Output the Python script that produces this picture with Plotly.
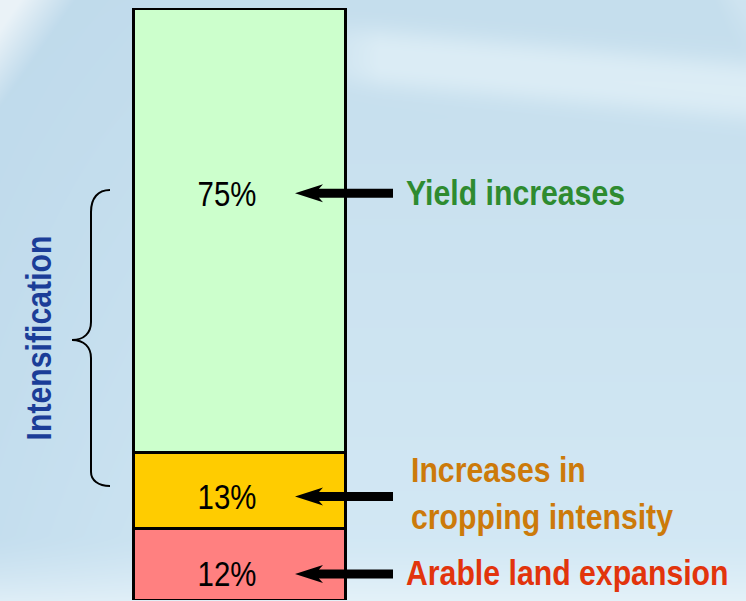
import base64
import struct
import zlib

import numpy as np
import plotly.graph_objects as go

# ---- data -------------------------------------------------------------
sources = ["Arable land expansion", "Increases in<br>cropping intensity", "Yield increases"]
shares = [12, 13, 75]                      # % of growth in crop production
bar_colors = ["#ff8080", "#ffcc00", "#ccffcc"]
label_colors = ["#e2340c", "#cc7a0a", "#2e8b30"]

# ---- canvas / layout constants ----------------------------------------
W, H = 746, 601
M_TOP, M_BOT = 8, 1
PLOT_H = H - M_TOP - M_BOT
BAR_X, BAR_W = 239, 212          # bar centre / width on a pixel-scaled x axis
PCT_X = 227                      # centre of the % labels
label_y = [4.4, 17.5, 68.7]      # vertical anchor of each % label and its arrow
side_text_y = [4.6, 18.1, 68.9]  # vertical anchor of the text on the right
SQUEEZE = 0.84                   # horizontal condensing of all text


def py(px):
    """pixel row -> y data value"""
    return (H - M_BOT - px) * 100.0 / PLOT_H


def dpx(px):
    """pixel height -> y data span"""
    return px * 100.0 / PLOT_H


# ---- soft blue backdrop rendered to a PNG ------------------------------
def make_backdrop():
    Y, X = np.mgrid[0:H, 0:W].astype(float)
    t = (Y / (H - 1))[..., None]
    top = np.array([197, 222, 237.0])
    bot = np.array([212, 233, 245.0])
    img = top * (1 - t) + bot * t

    def mix(img, w, col):
        w = w[..., None]
        return img * (1 - w) + np.array(col, float) * w

    # slightly deeper blue on the left side
    img = mix(img, np.clip(1 - X / 320, 0, 1) * 0.55, (186, 215, 234))
    # light swoosh across the upper right
    yc = 54 + (X - 340) * 0.09
    d = (Y - yc) / 30.0
    img = mix(img, np.exp(-np.abs(d) ** 3) * np.clip((X - 300) / 80, 0, 1) * 0.6,
              (234, 246, 251))
    # bright streak in the top-left corner
    s = X + 0.7 * Y
    img = mix(img, np.clip((75 - s) / 55, 0, 1) * 0.85, (242, 247, 250))
    # faint wedge at the top-right corner
    img = mix(img, np.clip((X - 712 - 0.5 * Y) / 25, 0, 1)
              * np.clip(1 - Y / 90, 0, 1) * 0.25, (236, 246, 251))
    # lighter haze along the bottom
    img = mix(img, np.clip((Y - 535) / 66, 0, 1) ** 1.5 * 0.65, (236, 246, 251))
    return np.clip(img, 0, 255).astype(np.uint8)


def png_uri(arr):
    h, w, _ = arr.shape
    raw = b"".join(b"\x00" + arr[r].tobytes() for r in range(h))

    def chunk(tag, data):
        c = struct.pack(">I", len(data)) + tag + data
        return c + struct.pack(">I", zlib.crc32(tag + data) & 0xFFFFFFFF)

    png = (b"\x89PNG\r\n\x1a\n"
           + chunk(b"IHDR", struct.pack(">IIBBBBB", w, h, 8, 2, 0, 0, 0))
           + chunk(b"IDAT", zlib.compress(raw, 9))
           + chunk(b"IEND", b""))
    return "data:image/png;base64," + base64.b64encode(png).decode()


# ---- figure -----------------------------------------------------------
fig = go.Figure()
for name, val, col in zip(sources, shares, bar_colors):
    fig.add_trace(go.Bar(
        x=[BAR_X], y=[val], width=[BAR_W], name=name,
        marker=dict(color=col, line=dict(color="black", width=3)),
        hoverinfo="skip", showlegend=False,
    ))

FONT = "Liberation Sans, Arial, sans-serif"
annotations = []
shapes = []

for val, ly, ty, txt, tcol in zip(shares, label_y, side_text_y, sources, label_colors):
    # percentage inside the bar segment
    annotations.append(dict(
        x=PCT_X, y=ly, xref="x", yref="y", text=f"{val}%", showarrow=False,
        font=dict(family=FONT, size=35, color="black"),
        xanchor="center", yanchor="middle",
    ))
    # label on the right
    left = 404 if val != 13 else 409
    annotations.append(dict(
        x=left, y=ty, xref="x", yref="y", text=f"<b>{txt}</b>", showarrow=False,
        font=dict(family=FONT, size=36, color=tcol),
        xanchor="left", yanchor="middle", align="left",
    ))
    # thick black arrow pointing into the bar
    shapes.append(dict(type="line", xref="x", yref="y", x0=318, x1=393, y0=ly, y1=ly,
                       line=dict(color="black", width=9)))
    h = dpx(9)
    shapes.append(dict(
        type="path", xref="x", yref="y", fillcolor="black", line=dict(width=0),
        path=(f"M 295,{ly} L 323,{ly + h} L 319,{ly + h / 2} "
              f"L 319,{ly - h / 2} L 323,{ly - h} Z"),
    ))

# curly brace grouping the intensification components
brace = (f"M 110,{py(190)} C 98,{py(190)} 91,{py(198)} 91,{py(212)} "
         f"L 91,{py(322)} C 91,{py(333)} 84,{py(340)} 72,{py(340)} "
         f"C 84,{py(340)} 91,{py(347)} 91,{py(358)} "
         f"L 91,{py(472)} C 91,{py(480)} 98,{py(486)} 110,{py(486)}")
shapes.append(dict(type="path", xref="x", yref="y", path=brace,
                   line=dict(color="black", width=2)))

annotations.append(dict(
    x=38, y=py(338), xref="x", yref="y", text="<b>Intensification</b>",
    textangle=-90, showarrow=False,
    font=dict(family=FONT, size=36, color="#1b3d98"),
    xanchor="center", yanchor="middle",
))

fig.update_layout(
    width=W, height=H,
    margin=dict(l=0, r=0, t=M_TOP, b=M_BOT, pad=0),
    barmode="stack",
    paper_bgcolor="#cfe4f1",
    plot_bgcolor="rgba(0,0,0,0)",
    xaxis=dict(range=[0, W], visible=False, fixedrange=True),
    yaxis=dict(range=[0, 100], visible=False, fixedrange=True),
    annotations=annotations,
    shapes=shapes,
    images=[dict(
        source=png_uri(make_backdrop()), xref="paper", yref="paper",
        x=0, y=1 + M_TOP / PLOT_H, sizex=1, sizey=H / PLOT_H,
        xanchor="left", yanchor="top", sizing="stretch", layer="below",
    )],
)

# condense the lettering horizontally (narrow sans look), keeping each
# text's anchor edge in place
condense_js = """
var gd = document.getElementById('{plot_id}');
function condense() {
  gd.querySelectorAll('text.annotation-text').forEach(function (t) {
    var anchor = t.getAttribute('text-anchor');
    t.style.transformBox = 'fill-box';
    t.style.transformOrigin = (anchor === 'start') ? 'left center' : 'center center';
    t.style.transform = 'scaleX(%s)';
  });
}
condense();
gd.on('plotly_afterplot', condense);
""" % SQUEEZE

fig.write_html("out.html", post_script=condense_js)
